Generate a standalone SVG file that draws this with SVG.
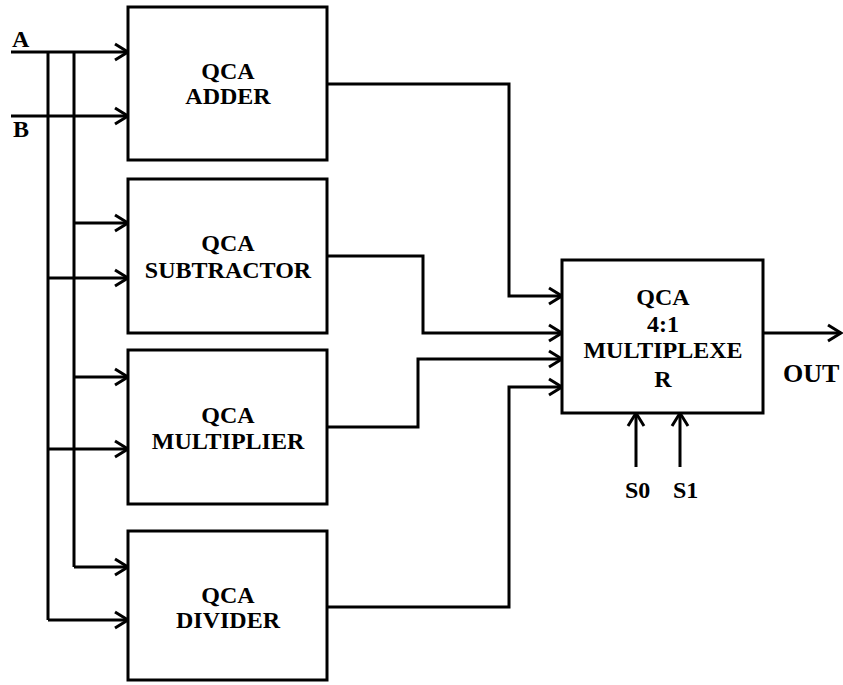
<svg xmlns="http://www.w3.org/2000/svg" width="843" height="685" viewBox="0 0 843 685">
<style>
.box{fill:#fff;stroke:#000;stroke-width:3}
.ln{fill:none;stroke:#000;stroke-width:3}
.t{font-family:"Liberation Serif","Times New Roman",serif;font-weight:bold;font-size:24px;fill:#000;text-anchor:middle}
.l{font-family:"Liberation Serif","Times New Roman",serif;font-weight:bold;font-size:24px;fill:#000}
</style>
<defs>
<marker id="arr" markerUnits="userSpaceOnUse" markerWidth="20" markerHeight="20" viewBox="-16 -10 20 20" refX="0" refY="0" orient="auto">
<path d="M-13,-8 L0,0 L-13,8" fill="none" stroke="#000" stroke-width="3"/>
</marker>
</defs>
<rect width="843" height="685" fill="#fff"/>
<g id="connectors">
<path class="ln" d="M11,52 H128" marker-end="url(#arr)"/>
<path class="ln" d="M11,116 H128" marker-end="url(#arr)"/>
<path class="ln" d="M48,52 V620"/>
<path class="ln" d="M74,52 V567"/>
<path class="ln" d="M74,223 H128" marker-end="url(#arr)"/>
<path class="ln" d="M48,278 H128" marker-end="url(#arr)"/>
<path class="ln" d="M74,377 H128" marker-end="url(#arr)"/>
<path class="ln" d="M48,449 H128" marker-end="url(#arr)"/>
<path class="ln" d="M74,567 H128" marker-end="url(#arr)"/>
<path class="ln" d="M48,620 H128" marker-end="url(#arr)"/>
<path class="ln" d="M327,84 H509 V296 H562" marker-end="url(#arr)"/>
<path class="ln" d="M327,256 H423 V333 H562" marker-end="url(#arr)"/>
<path class="ln" d="M327,427 H418 V359 H562" marker-end="url(#arr)"/>
<path class="ln" d="M327,607 H509 V387 H562" marker-end="url(#arr)"/>
<path class="ln" d="M763,333 H841" marker-end="url(#arr)"/>
<path class="ln" d="M636,467 V413" marker-end="url(#arr)"/>
<path class="ln" d="M680,467 V413" marker-end="url(#arr)"/>
</g>
<g id="adder">
<rect class="box" x="128" y="7" width="199" height="153"/>
<text class="t" x="228" y="79">QCA</text>
<text class="t" x="228" y="104">ADDER</text>
</g>
<g id="subtractor">
<rect class="box" x="128" y="179" width="199" height="154"/>
<text class="t" x="228" y="251">QCA</text>
<text class="t" x="228" y="278">SUBTRACTOR</text>
</g>
<g id="multiplier">
<rect class="box" x="128" y="350" width="199" height="154"/>
<text class="t" x="228" y="423">QCA</text>
<text class="t" x="228" y="449">MULTIPLIER</text>
</g>
<g id="divider">
<rect class="box" x="128" y="531" width="199" height="149"/>
<text class="t" x="228" y="603">QCA</text>
<text class="t" x="228" y="628">DIVIDER</text>
</g>
<g id="mux">
<rect class="box" x="562" y="260" width="201" height="153"/>
<text class="t" x="663" y="305">QCA</text>
<text class="t" x="663" y="332">4:1</text>
<text class="t" x="663" y="358">MULTIPLEXE</text>
<text class="t" x="663" y="387">R</text>
</g>
<g id="labels">
<text class="l" x="12" y="47">A</text>
<text class="l" x="13" y="137">B</text>
<text class="l" x="783" y="382" style="font-size:26px">OUT</text>
<text class="l" x="625" y="498">S0</text>
<text class="l" x="673" y="498">S1</text>
</g>
</svg>
